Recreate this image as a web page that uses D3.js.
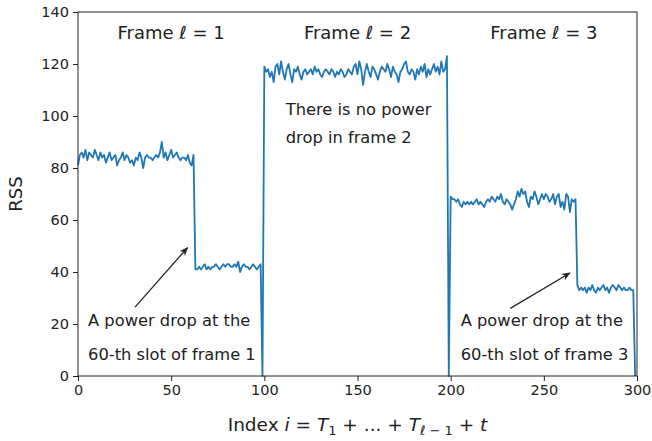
<!DOCTYPE html>
<html><head><meta charset="utf-8">
<script src="https://cdn.jsdelivr.net/npm/d3@7"></script>
<style>
body{margin:0;background:#fff;}
svg text{font-family:"DejaVu Sans",sans-serif;fill:#222;}
</style></head>
<body><svg id="c" width="652" height="441"></svg>
<script>
// ---- data ----
const frame1High = [81,85,86,84,87,83,86,85,84,87,85,83,86,84,85,82,84,86,83,84,85,81,83,84,86,83,85,84,82,83,81,84,83,86,84,80,84,85,84,84,83,84,85,84,86,90,84,86,83,85,87,84,85,86,84,83,84,84,83,85,82,81,85];
const frame1Low = [41,41,42,41,42,43,41,42,41,42,42,43,42,41,42,43,42,43,43,42,42,43,42,44,40,42,43,42,42,41,42,43,42,41,42,43];
const frame2 = [119,117,118,115,117,113,119,120,116,121,117,114,118,120,116,113,118,117,119,116,114,117,118,116,117,118,116,119,117,118,116,115,117,118,117,116,118,117,115,117,116,118,117,115,116,118,117,116,119,120,116,121,118,112,117,120,117,115,119,118,116,114,117,119,118,117,120,118,115,119,117,116,113,117,118,120,121,117,116,118,117,114,118,116,119,117,120,115,118,116,118,120,117,119,116,121,117,118,123];
const frame3High = [69,68,68,67,68,66,65,67,66,67,66,67,66,67,68,66,67,66,65,67,68,67,69,68,67,69,68,70,67,66,68,67,66,64,66,68,71,69,72,70,71,67,65,69,68,71,69,66,68,70,68,70,69,67,68,70,66,69,70,65,67,64,70,69,63,68,67,68];
const frame3Low = [35,33,34,33,34,32,34,33,35,33,32,34,33,34,35,33,34,32,34,35,34,33,35,34,33,34,33,33,34,33,33];
const frameEnd = [0];
const rss = [].concat(frame1High, frame1Low, frameEnd, frame2, frameEnd, frame3High, frame3Low, frameEnd);
const xTicks = [0,50,100,150,200,250,300];
const yTicks = [0,20,40,60,80,100,120,140];
const frameLabels = ["1","2","3"];

// ---- layout ----
const svg = d3.select("#c");
const L=78, R=637, T=12, B=376;
const x = d3.scaleLinear().domain([0,300]).range([L,R]);
const y = d3.scaleLinear().domain([0,140]).range([B,T]);

// line
const line = d3.line().x((d,i)=>x(i)).y(d=>y(d));
svg.append("path").datum(rss).attr("d",line)
  .attr("fill","none").attr("stroke","#1f77b4").attr("stroke-width",1.8).attr("stroke-linejoin","round");

// axes
const xa = svg.append("g").attr("transform",`translate(0,${B})`)
  .call(d3.axisBottom(x).tickValues(xTicks).tickSize(5).tickPadding(4));
const ya = svg.append("g").attr("transform",`translate(${L},0)`)
  .call(d3.axisLeft(y).tickValues(yTicks).tickSize(5).tickPadding(4));
[xa,ya].forEach(g=>{
  g.selectAll("text").attr("font-size",14.5).attr("font-family","DejaVu Sans").attr("fill","#222");
  g.select(".domain").remove();
  g.selectAll("line").attr("stroke","#222");
});
// spines
svg.append("rect").attr("x",L).attr("y",T).attr("width",R-L).attr("height",B-T)
  .attr("fill","none").attr("stroke","#222").attr("stroke-width",1);

// frame labels
const frameCenters=[50,150,250];
frameLabels.forEach((lab,k)=>{
  const t = svg.append("text").attr("x",x(frameCenters[k])).attr("y",39)
    .attr("text-anchor","middle").attr("font-size",18);
  t.append("tspan").text("Frame ");
  t.append("tspan").attr("font-style","italic").text("ℓ");
  t.append("tspan").text(" = "+lab);
});

// annotations
function txt(xv,yv,s){ svg.append("text").attr("x",x(xv)).attr("y",y(yv)).attr("font-size",16.3).text(s); }
txt(111.5,100.4,"There is no power");
txt(111.5,89.6,"drop in frame 2");
txt(5.4,19.2,"A power drop at the");
txt(5.4,6.2,"60-th slot of frame 1");
txt(205.4,19.2,"A power drop at the");
txt(205.4,6.2,"60-th slot of frame 3");

// arrows
const defs = svg.append("defs");
defs.append("marker").attr("id","ah").attr("viewBox","0 0 10 10").attr("refX",9).attr("refY",5)
  .attr("markerWidth",7).attr("markerHeight",7).attr("orient","auto")
  .append("path").attr("d","M0,1 L10,5 L0,9 L3,5 Z").attr("fill","#222");
function arrow(x1,y1,x2,y2){
  svg.append("line").attr("x1",x(x1)).attr("y1",y(y1)).attr("x2",x(x2)).attr("y2",y(y2))
    .attr("stroke","#222").attr("stroke-width",1.3).attr("marker-end","url(#ah)");
}
arrow(30.6,26.5,58.8,49.4);
arrow(232,26,264,39.6);

// axis labels
const xl = svg.append("text").attr("x",x(150)).attr("y",431).attr("text-anchor","middle").attr("font-size",18.5);
xl.append("tspan").text("Index ");
xl.append("tspan").attr("font-style","italic").text("i");
xl.append("tspan").text(" = ");
xl.append("tspan").attr("font-style","italic").text("T");
xl.append("tspan").attr("font-size",13).attr("dy",4).text("1");
xl.append("tspan").attr("dy",-4).text(" + ... + ");
xl.append("tspan").attr("font-style","italic").text("T");
xl.append("tspan").attr("font-size",13).attr("dy",4).attr("font-style","italic").text("ℓ");
xl.append("tspan").attr("font-size",13).text(" − 1");
xl.append("tspan").attr("dy",-4).text(" + ");
xl.append("tspan").attr("font-style","italic").text("t");

svg.append("text").attr("transform",`translate(22,${(T+B)/2}) rotate(-90)`)
  .attr("text-anchor","middle").attr("font-size",18).text("RSS");
</script></body></html>
